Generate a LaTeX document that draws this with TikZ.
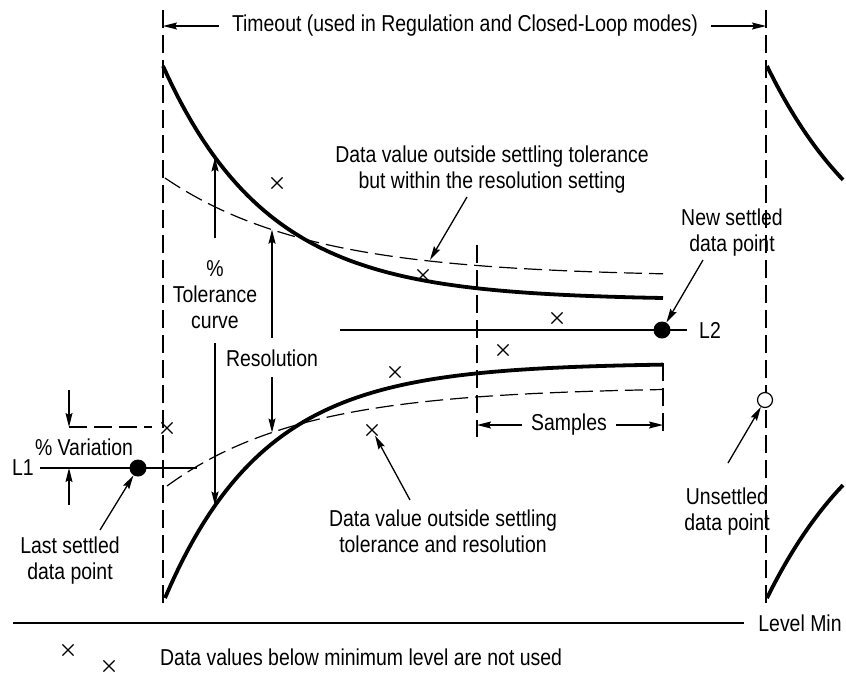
\documentclass[tikz,border=0pt]{standalone}
\usepackage{fontspec}
\setmainfont{Liberation Sans}[FakeStretch=0.845]
\usetikzlibrary{arrows.meta,shapes.misc}
\begin{document}
\begin{tikzpicture}[x=1pt,y=-1pt,
  every node/.style={font=\fontsize{23}{26}\selectfont, inner sep=0pt, align=center},
  thinln/.style={line width=1.3pt},
  boldln/.style={line width=3.8pt},
  dsh/.style={line width=1.2pt, dash pattern=on 18pt off 7pt},
  tip/.style={-{Stealth[length=14pt,width=7pt,inset=2pt]}, line width=1.3pt},
  xmark/.style={cross out, draw, line width=1.1pt, minimum size=10pt},
  fdot/.style={circle, fill=black, minimum size=17pt},
  odot/.style={circle, draw, fill=white, line width=1.2pt, minimum size=15pt}
]
\useasboundingbox (0,0) rectangle (846,673);

% vertical dashed boundaries
\draw[dsh] (163,10) -- (163,603);
\draw[dsh] (766,10) -- (766,603);

% Timeout dimension
\coordinate (tl) at (163,26);
\coordinate (tr) at (766,26);
\node[inner xsep=13pt] (timeout) at (465,26) {Timeout (used in Regulation and Closed-Loop modes)};
\draw[tip] (timeout) -- (tl);
\draw[tip] (timeout) -- (tr);

% tolerance curves (bold)
\draw[boldln] plot[domain=163:663, samples=90] (\x,{300-234*exp(-(\x-163)/105)});
\draw[boldln] plot[domain=165:663, samples=90] (\x,{363+235*exp(-(\x-165)/100)});
\draw[boldln] plot[domain=767:843, samples=30] (\x,{300-234*exp(-(\x-767)/114)});
\draw[boldln] plot[domain=767:843, samples=30] (\x,{363+235*exp(-(\x-767)/116)});

% resolution curves (dashed)
\draw[dsh] plot[domain=165:663, samples=90] (\x,{277-99*exp(-(\x-165)/145)});
\draw[dsh] plot[domain=167:663, samples=90] (\x,{387+99*exp(-(\x-167)/135)});

% samples
\draw[dsh] (477,245) -- (477,437);
\draw[dsh] (663,363) -- (663,437);
\coordinate (sl) at (477,425);
\coordinate (sr) at (663,425);
\node[inner xsep=9pt] (samples) at (569,425) {Samples};
\draw[tip] (samples) -- (sl);
\draw[tip] (samples) -- (sr);

% % Tolerance curve label and arrows
\node (tol) at (215,295) {\%\\Tolerance\\curve};
\coordinate (tolA) at (215,238);
\coordinate (tolB) at (215,343);
\coordinate (tolU) at (215,{300-234*exp(-(215-163)/105)});
\coordinate (tolD) at (215,{363+235*exp(-(215-165)/100)});
\draw[tip] (tolA) -- (tolU);
\draw[tip] (tolB) -- (tolD);

% Resolution label and arrows
\node (res) at (272,358) {Resolution};
\coordinate (resA) at (272,338);
\coordinate (resB) at (272,377);
\coordinate (resU) at (272,{277-99*exp(-(272-165)/145)});
\coordinate (resD) at (272,{387+99*exp(-(272-167)/135)});
\draw[tip] (resA) -- (resU);
\draw[tip] (resB) -- (resD);

% L2 line
\coordinate (l2a) at (340,330);
\node[inner xsep=12pt] (l2lbl) at (710,330) {L2};
\draw[thinln] (l2a) -- (l2lbl);
\node[fdot] (dotL2) at (662,330) {};

% L1 line
\node[inner xsep=6pt] (l1lbl) at (23,468) {L1};
\coordinate (l1b) at (197,468);
\draw[thinln] (l1lbl) -- (l1b);
\node[fdot] (dotL1) at (138,468) {};

% % Variation
\node (var) at (84,447) {\% Variation};
\coordinate (va) at (69,390);
\coordinate (vb) at (69,427);
\coordinate (vc) at (152,427);
\coordinate (vd) at (69,505);
\coordinate (ve) at (69,468);
\draw[tip] (va) -- (vb);
\draw[dsh] (vb) -- (vc);
\draw[tip] (vd) -- (ve);

% data marks
\node[xmark] (x1) at (277,183) {};
\node[xmark] (x2) at (423,275) {};
\node[xmark] (x3) at (557,318) {};
\node[xmark] (x4) at (503,350) {};
\node[xmark] (x5) at (395,372) {};
\node[xmark] (x6) at (372,430) {};
\node[xmark] (x7) at (167,428) {};
\node[xmark] (x8) at (68,650) {};
\node[xmark] (x9) at (109,666) {};

% unsettled point
\node[odot] (dotU) at (765,400) {};

% labels with pointers
\node (lblWithin) at (492,170) {Data value outside settling tolerance\\but within the resolution setting};
\coordinate (pWithin) at (467,197);
\coordinate (tWithin) at (430,260);
\draw[tip] (pWithin) -- (tWithin);

\node (lblNew) at (732,233) {New settled\\data point};
\coordinate (pNew) at (703,260);
\draw[tip] (pNew) -- (dotL2);

\node (lblLast) at (70,561) {Last settled\\data point};
\coordinate (pLast) at (100,530);
\draw[tip] (pLast) -- (dotL1);

\node (lblOut) at (443,531) {Data value outside settling\\tolerance and resolution};
\coordinate (pOut) at (410,500);
\draw[tip] (pOut) -- (x6);

\node (lblUns) at (727,512) {Unsettled\\data point};
\coordinate (pUns) at (728,463);
\draw[tip] (pUns) -- (dotU);

% level min
\coordinate (lv0) at (13,623);
\node[inner xsep=14pt] (lvl) at (800,623) {Level Min};
\draw[thinln] (lv0) -- (lvl);

\node[anchor=west] (below) at (160,657) {Data values below minimum level are not used};
\end{tikzpicture}
\end{document}
